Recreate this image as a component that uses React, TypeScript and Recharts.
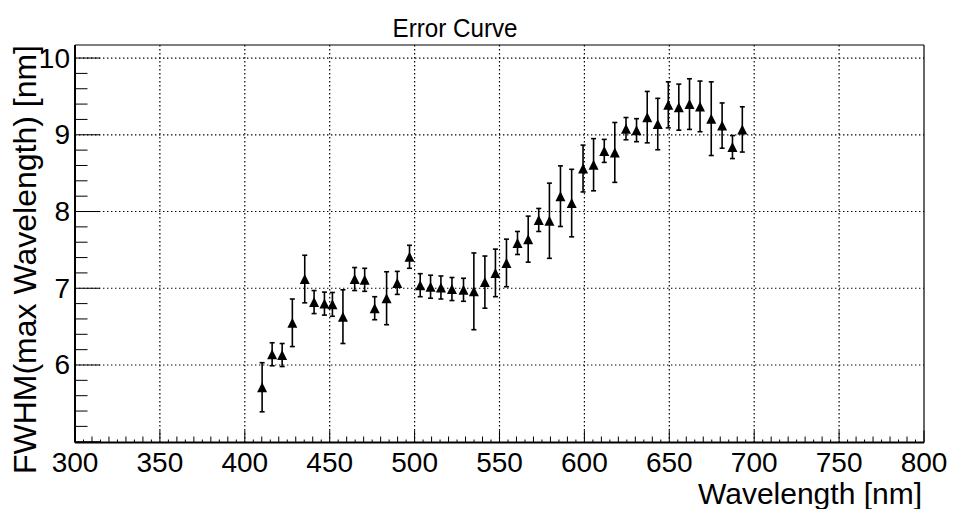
import { ErrorBar, ReferenceLine, Scatter, ScatterChart, XAxis, YAxis } from "recharts";

// FWHM of the fitted peak versus the wavelength of maximum, with errors
const wavelength = [
  410.2, 416.1, 422.0, 428.0, 435.3, 440.8, 446.9, 451.6, 457.8, 464.7,
  470.6, 476.5, 483.5, 489.8, 497.0, 503.3, 509.4, 515.5, 522.0, 528.8,
  534.9, 541.4, 547.6, 554.1, 560.6, 566.9, 573.1, 579.4, 585.9, 592.5,
  599.2, 605.4, 611.7, 617.9, 624.5, 630.7, 637.0, 643.2, 649.4, 655.6,
  661.9, 668.1, 674.7, 681.1, 687.2, 693.0
];
const fwhm = [
  5.71, 6.14, 6.13, 6.55, 7.12, 6.82, 6.8, 6.79, 6.63, 7.12,
  7.11, 6.74, 6.87, 7.07, 7.41, 7.04, 7.02, 7.01, 6.99, 6.98,
  6.96, 7.08, 7.2, 7.33, 7.59, 7.64, 7.89, 7.88, 8.2, 8.11,
  8.56, 8.61, 8.79, 8.77, 9.08, 9.06, 9.23, 9.14, 9.39, 9.36,
  9.4, 9.37, 9.21, 9.12, 8.84, 9.07
];
const fwhmErr = [
  0.32, 0.15, 0.15, 0.31, 0.31, 0.15, 0.15, 0.155, 0.35, 0.15,
  0.15, 0.15, 0.345, 0.15, 0.15, 0.15, 0.15, 0.15, 0.15, 0.15,
  0.5, 0.34, 0.31, 0.31, 0.15, 0.3, 0.15, 0.49, 0.395, 0.44,
  0.305, 0.34, 0.15, 0.39, 0.145, 0.15, 0.335, 0.335, 0.3, 0.3,
  0.33, 0.33, 0.48, 0.295, 0.15, 0.295
];

const xMajorTicks = [300, 350, 400, 450, 500, 550, 600, 650, 700, 750, 800];
const yMajorTicks = [6, 7, 8, 9, 10];

const X_MIN = 300;
const X_MAX = 800;
const Y_MIN = 4.99;
const Y_MAX = 10.17;

// secondary ticks: every 5 nm on x, every 0.2 nm on y
const xTicks = Array.from({ length: (X_MAX - X_MIN) / 5 + 1 }, (_, i) => X_MIN + i * 5);
const yTicks = Array.from({ length: 26 }, (_, i) => Math.round((5 + i * 0.2) * 10) / 10);

const data = wavelength.map((w, i) => ({ w, v: fwhm[i], err: fwhmErr[i] }));

const W = 955;
const H = 509;
const PLOT_LEFT = 75;
const PLOT_BOTTOM = 442.5;
const FONT = "'Liberation Sans', Arial, Helvetica, sans-serif";

function XTick({ x, payload }: any) {
  const v = payload.value as number;
  const major = v % 50 === 0;
  const len = major ? 12 : v % 10 === 0 ? 6 : 3;
  return (
    <g>
      <line x1={x} x2={x} y1={PLOT_BOTTOM} y2={PLOT_BOTTOM - len} stroke="#000" strokeWidth={1} />
      {major && (
        <text x={x} y={462} textAnchor="middle" dominantBaseline="central" fontSize={28} fontFamily={FONT} fill="#000">
          {v}
        </text>
      )}
    </g>
  );
}

function YTick({ y, payload }: any) {
  const v = payload.value as number;
  const major = Number.isInteger(v);
  const len = major ? 25 : 12.5;
  return (
    <g>
      <line x1={PLOT_LEFT} x2={PLOT_LEFT + len} y1={y} y2={y} stroke="#000" strokeWidth={1} />
      {major && v >= 6 && (
        <text x={70} y={y} textAnchor="end" dominantBaseline="central" fontSize={28} fontFamily={FONT} fill="#000">
          {v}
        </text>
      )}
    </g>
  );
}

function Triangle({ cx, cy }: any) {
  const s = 5;
  return <polygon points={`${cx},${cy - s} ${cx + s},${cy + s} ${cx - s},${cy + s}`} fill="#000" />;
}

export default function App() {
  return (
    <div style={{ position: "absolute", left: 0, top: 0, width: W, height: H, background: "#fff" }}>
      <ScatterChart width={W} height={H} margin={{ top: 45, right: 31, bottom: 0, left: 0 }}>
        <XAxis
          type="number"
          dataKey="w"
          domain={[X_MIN, X_MAX]}
          ticks={xTicks}
          interval={0}
          height={H - PLOT_BOTTOM}
          axisLine={false}
          tickLine={false}
          tick={<XTick />}
          allowDataOverflow
        />
        <YAxis
          type="number"
          dataKey="v"
          domain={[Y_MIN, Y_MAX]}
          ticks={yTicks}
          interval={0}
          width={PLOT_LEFT}
          axisLine={false}
          tickLine={false}
          tick={<YTick />}
          allowDataOverflow
        />
        {xMajorTicks.slice(1, -1).map((t) => (
          <ReferenceLine key={`gx${t}`} x={t} stroke="#000" strokeWidth={1.2} strokeDasharray="1.4 2.6" />
        ))}
        {yMajorTicks.map((t) => (
          <ReferenceLine key={`gy${t}`} y={t} stroke="#000" strokeWidth={1.2} strokeDasharray="1.4 2.6" />
        ))}
        <ReferenceLine x={X_MIN} stroke="#000" strokeWidth={2} />
        <ReferenceLine x={X_MAX} stroke="#000" strokeWidth={1.2} />
        <ReferenceLine y={Y_MAX} stroke="#000" strokeWidth={1.2} />
        <ReferenceLine y={Y_MIN} stroke="#000" strokeWidth={2} />
        <Scatter data={data} shape={<Triangle />} isAnimationActive={false}>
          <ErrorBar dataKey="err" direction="y" width={2.5} stroke="#000" strokeWidth={1.6} isAnimationActive={false} />
        </Scatter>
      </ScatterChart>
      <svg width={W} height={H} style={{ position: "absolute", left: 0, top: 0, pointerEvents: "none" }}>
        <text
          x={455}
          y={37}
          textAnchor="middle"
          fontSize={26}
          textLength={125}
          lengthAdjust="spacingAndGlyphs"
          fontFamily={FONT}
          fill="#000"
        >
          Error Curve
        </text>
        <text x={922} y={504} textAnchor="end" fontSize={30} fontFamily={FONT} fill="#000">
          Wavelength [nm]
        </text>
        <text
          transform="translate(36,45) rotate(-90)"
          textAnchor="end"
          fontSize={32}
          fontFamily={FONT}
          fill="#000"
        >
          FWHM(max Wavelength) [nm]
        </text>
      </svg>
    </div>
  );
}
